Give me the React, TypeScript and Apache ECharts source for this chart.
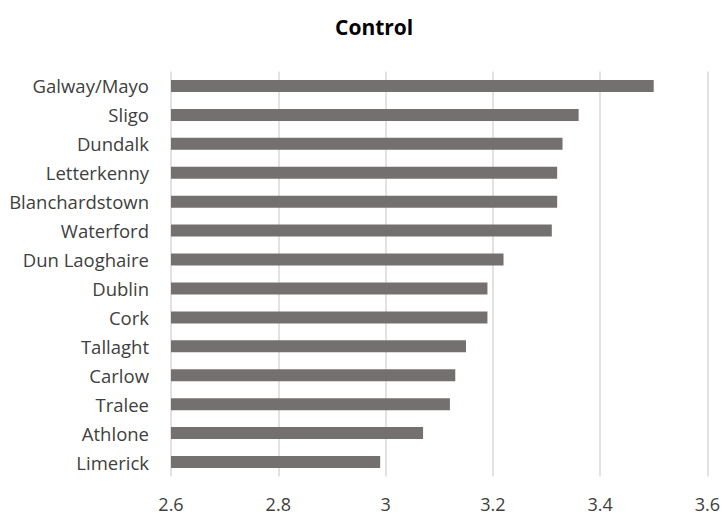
import React, { useEffect, useRef } from "react";
import * as echarts from "echarts";

const categories = [
  "Galway/Mayo",
  "Sligo",
  "Dundalk",
  "Letterkenny",
  "Blanchardstown",
  "Waterford",
  "Dun Laoghaire",
  "Dublin",
  "Cork",
  "Tallaght",
  "Carlow",
  "Tralee",
  "Athlone",
  "Limerick",
];
const values = [3.5, 3.36, 3.33, 3.32, 3.32, 3.31, 3.22, 3.19, 3.19, 3.15, 3.13, 3.12, 3.07, 2.99];
const xTicks = [2.6, 2.8, 3, 3.2, 3.4, 3.6];
const title = "Control";

export default function App() {
  const ref = useRef<HTMLDivElement>(null);
  useEffect(() => {
    if (!ref.current) return;
    const chart = echarts.init(ref.current, undefined, { renderer: "svg" });
    const font = "'Open Sans', 'Noto Sans', sans-serif";
    chart.setOption({
      animation: false,
      title: {
        text: title,
        left: 330,
        top: 11,
        textStyle: { fontFamily: font, fontSize: 21, fontWeight: "bold", color: "#000" },
      },
      grid: { left: 171, right: 12, top: 71.5, bottom: 37.5, containLabel: false },
      xAxis: {
        type: "value",
        min: xTicks[0],
        max: xTicks[xTicks.length - 1],
        interval: 0.2,
        axisLine: { show: false },
        axisTick: { show: false },
        splitLine: { show: true, lineStyle: { color: "#d9d9d9", width: 1.5 } },
        axisLabel: {
          margin: 18,
          fontFamily: font,
          fontSize: 18,
          color: "#404040",
          formatter: (v: number) => String(Math.round(v * 10) / 10),
        },
      },
      yAxis: {
        type: "category",
        data: categories,
        inverse: true,
        axisLine: { show: false },
        axisTick: { show: false },
        axisLabel: { margin: 22, fontFamily: font, fontSize: 18.5, color: "#404040" },
      },
      series: [
        {
          type: "bar",
          data: values,
          barWidth: 12,
          itemStyle: { color: "#747070" },
        },
      ],
    });
    return () => chart.dispose();
  }, []);
  return <div ref={ref} style={{ width: 723, height: 514, position: "absolute", left: 0, top: 0 }} />;
}
